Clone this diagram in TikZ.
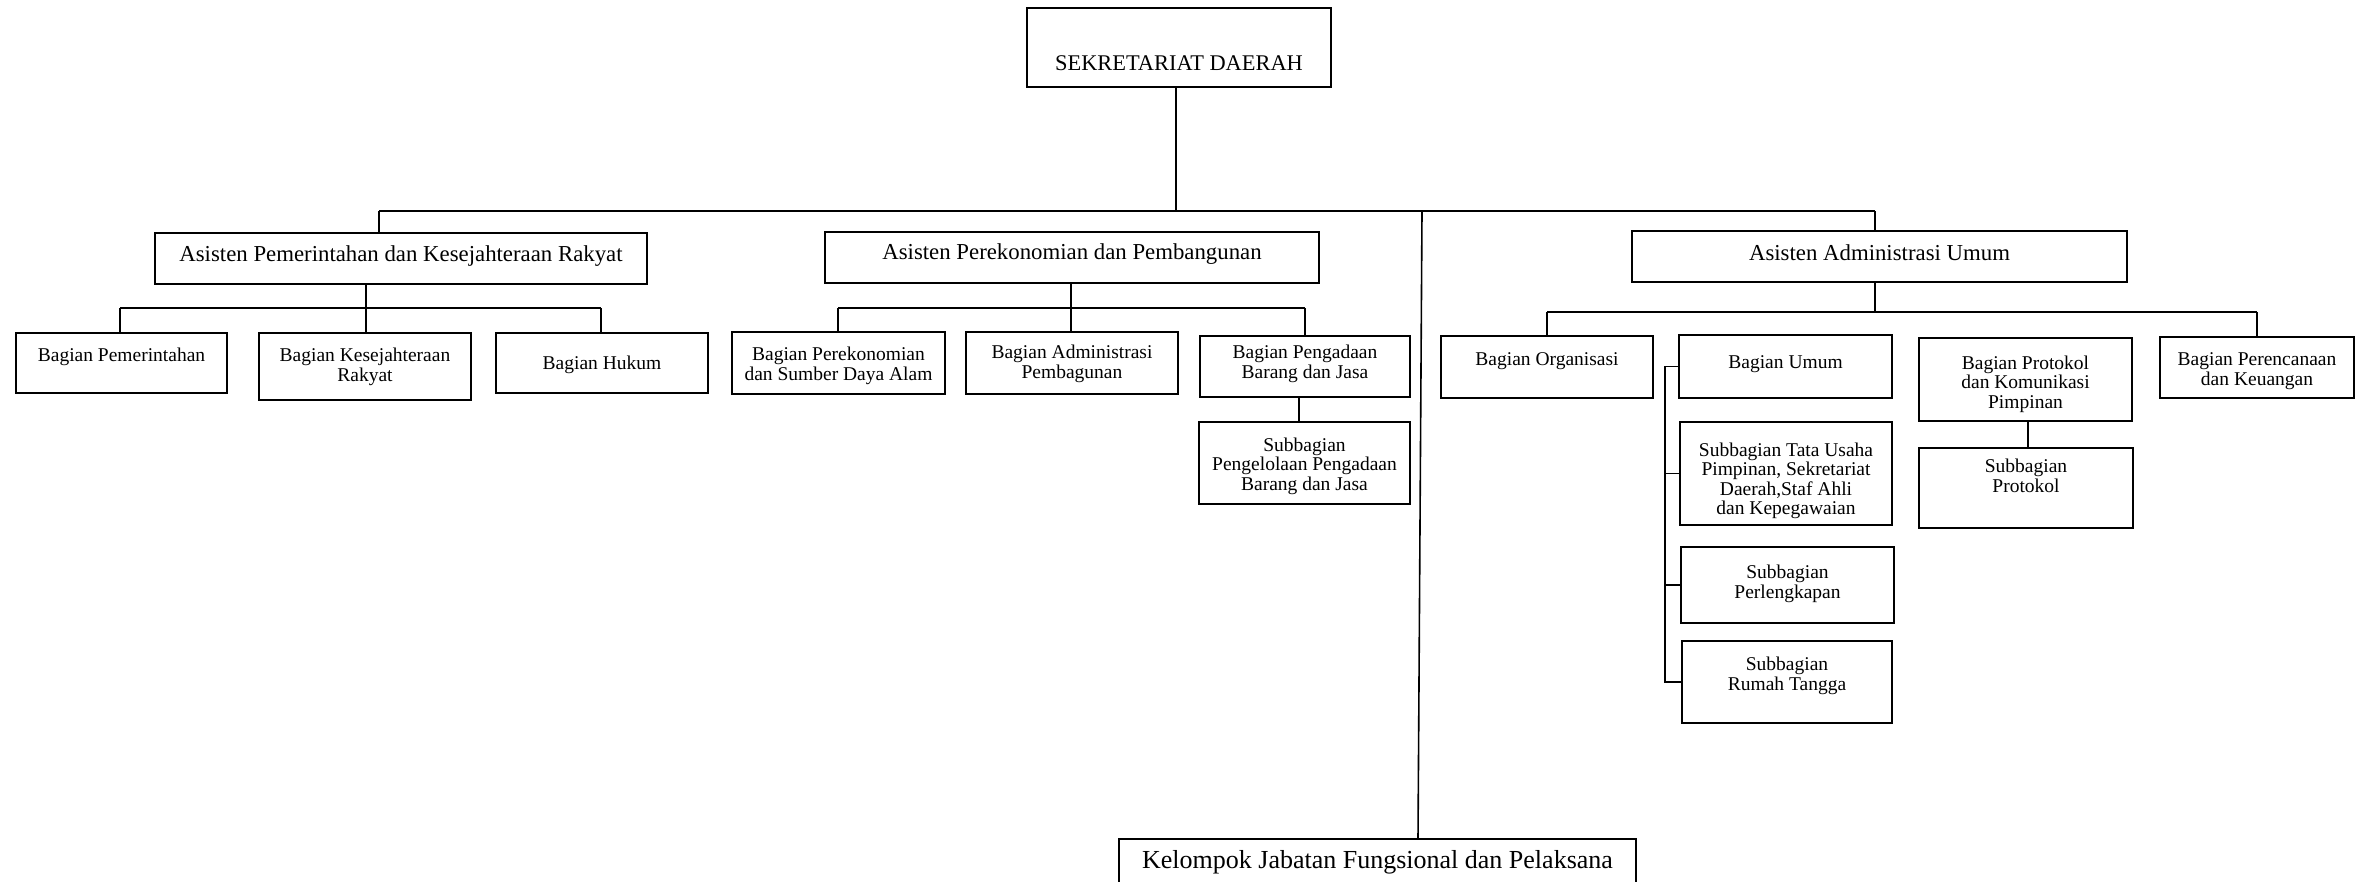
\documentclass[tikz,border=0pt]{standalone}
\usepackage{fontspec}
\setmainfont{Liberation Serif}
\tikzset{
  box/.style={draw, line width=1.8pt, inner sep=0pt},
  conn/.style={line width=1.6pt},
  txt/.style={inner sep=0pt, align=center, font=\fontsize{19.5}{19.5}\selectfont},
  big/.style={inner sep=0pt, align=center, font=\fontsize{22.8}{24}\selectfont},
  sekst/.style={inner sep=0pt, align=center, font=\fontsize{22.4}{24}\selectfont},
  kelst/.style={inner sep=0pt, align=center, font=\fontsize{26}{28}\selectfont},
}
% name x1 y1 x2 y2 texty style text
\newcommand\obox[8]{%
  \node[box, minimum width={#4-#2}, minimum height={#5-#3}] (#1) at ({(#2+#4)/2},{(#3+#5)/2}) {};
  \node[#7] (#1t) at ({(#2+#4)/2},#6) {#8};}
\begin{document}
\begin{tikzpicture}[x=1pt,y=-1pt]
\useasboundingbox (0,0) rectangle (2358,881);
\fill[white] (0,0) rectangle (2358,881);
\clip (0,0) rectangle (2358,881);

\obox{sek}{1027}{8}{1331}{87}{63}{sekst}{SEKRETARIAT DAERAH}
\obox{apm}{155}{233}{647}{284}{256}{big}{Asisten Pemerintahan dan Kesejahteraan Rakyat}
\obox{apb}{825}{232}{1319}{283}{254}{big}{Asisten Perekonomian dan Pembangunan}
\obox{aau}{1632}{231}{2127}{282}{253}{big}{Asisten Administrasi Umum}
\obox{b1}{16}{333}{227}{393}{357}{txt}{Bagian Pemerintahan}
\obox{b2}{259}{333}{471}{400}{367}{txt}{Bagian Kesejahteraan\\Rakyat}
\obox{b3}{496}{333}{708}{393}{365}{txt}{Bagian Hukum}
\obox{b4}{732}{332}{945}{394}{366}{txt}{Bagian Perekonomian\\dan Sumber Daya Alam}
\obox{b5}{966}{332}{1178}{394}{364}{txt}{Bagian Administrasi\\Pembagunan}
\obox{b6}{1200}{336}{1410}{397}{364}{txt}{Bagian Pengadaan\\Barang dan Jasa}
\obox{s1}{1199}{422}{1410}{504}{466}{txt}{Subbagian\\Pengelolaan Pengadaan\\Barang dan Jasa}
\obox{b7}{1441}{336}{1653}{398}{361}{txt}{Bagian Organisasi}
\obox{b8}{1679}{335}{1892}{398}{364}{txt}{Bagian Umum}
\obox{s2}{1680}{422}{1892}{525}{481}{txt}{Subbagian Tata Usaha\\Pimpinan, Sekretariat\\Daerah,Staf Ahli\\dan Kepegawaian}
\obox{s3}{1681}{547}{1894}{623}{584}{txt}{Subbagian\\Perlengkapan}
\obox{s4}{1682}{641}{1892}{723}{676}{txt}{Subbagian\\Rumah Tangga}
\obox{b9}{1919}{338}{2132}{421}{384}{txt}{Bagian Protokol\\dan Komunikasi\\Pimpinan}
\obox{s5}{1919}{448}{2133}{528}{476}{txt}{Subbagian\\Protokol}
\obox{b10}{2160}{337}{2354}{398}{371}{txt}{Bagian Perencanaan\\dan Keuangan}
\obox{kel}{1119}{839}{1636}{892}{862}{kelst}{Kelompok Jabatan Fungsional dan Pelaksana}

% top bar
\coordinate (barL) at (379,211);
\coordinate (barR) at (1875,211);
\coordinate (barK) at (1422,211);
\coordinate (sekJ) at (1176,211);
\draw[conn] (barL) -- (barR);
\draw[conn] (sek.south -| sekJ) -- (sekJ);
\draw[conn] (barL) -- (barL |- apm.north);
\draw[conn] (barR) -- (barR |- aau.north);
\draw[conn] (barK) -- ([xshift=-4pt]barK |- kel.north);

% Pemerintahan group
\coordinate (pj) at (366,308);
\coordinate (pl) at (120,308);
\coordinate (pr) at (601,308);
\draw[conn] (apm.south -| pj) -- (pj);
\draw[conn] (pl) -- (pr);
\draw[conn] (pl) -- (pl |- b1.north);
\draw[conn] (pj) -- (pj |- b2.north);
\draw[conn] (pr) -- (pr |- b3.north);

% Perekonomian group
\coordinate (ej) at (1071,308);
\coordinate (el) at (838,308);
\coordinate (er) at (1305,308);
\draw[conn] (apb.south -| ej) -- (ej);
\draw[conn] (el) -- (er);
\draw[conn] (el) -- (el |- b4.north);
\draw[conn] (ej) -- (ej |- b5.north);
\draw[conn] (er) -- (er |- b6.north);
\coordinate (pgx) at (1299,0);
\draw[conn] (b6.south -| pgx) -- (s1.north -| pgx);

% Administrasi group
\coordinate (aj) at (1875,312);
\coordinate (al) at (1547,312);
\coordinate (ar) at (2257,312);
\draw[conn] (aau.south -| aj) -- (aj);
\draw[conn] (al) -- (ar);
\draw[conn] (al) -- (al |- b7.north);
\draw[conn] (ar) -- (ar |- b10.north);
\coordinate (brx) at (1665,0);
\draw[conn] (b8.west) -- (b8.west -| brx) -- (s4.west -| brx) -- (s4.west);
\draw[conn] (s2.west) -- (s2.west -| brx);
\draw[conn] (s3.west) -- (s3.west -| brx);
\coordinate (ptx) at (2028,0);
\draw[conn] (b9.south -| ptx) -- (s5.north -| ptx);
\end{tikzpicture}
\end{document}
